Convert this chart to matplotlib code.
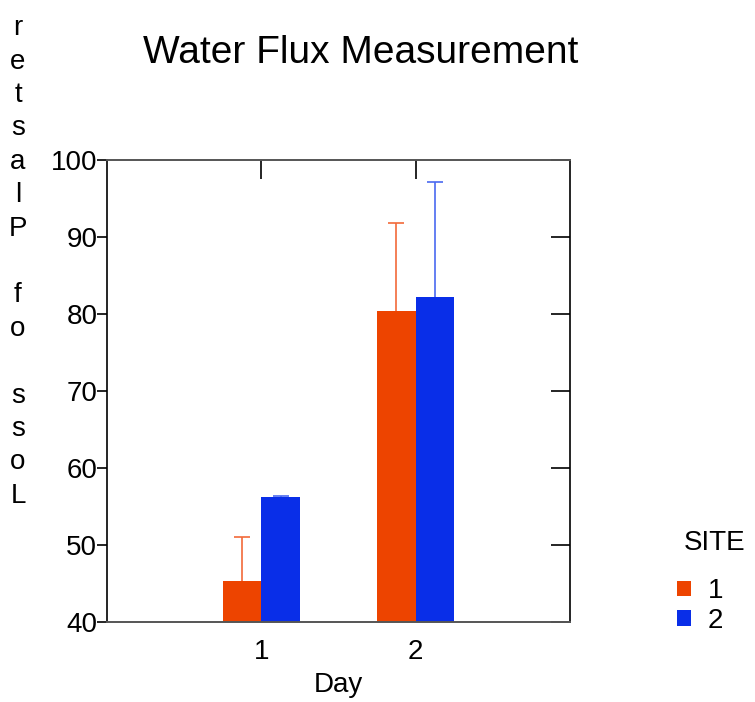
import matplotlib
matplotlib.use("Agg")
import matplotlib.pyplot as plt
import numpy as np
from matplotlib.patches import Patch

plt.rcParams["font.family"] = ["Liberation Sans", "DejaVu Sans"]

days = [1, 2]
sites = ["1", "2"]
site1_mean = [45.3, 80.4]
site1_err = [5.8, 11.4]
site2_mean = [56.2, 82.2]
site2_err = [0.1, 14.9]

bar_colors = ["#ED4400", "#092EE8"]
err_colors = ["#F26A3A", "#4A6AF0"]

fig = plt.figure(figsize=(7.55, 7.02), dpi=100)
ax = fig.add_axes([107 / 755, 1 - 622 / 702, 463 / 755, 462 / 702])

width = 0.25
x = np.array(days, dtype=float)
means = [site1_mean, site2_mean]
errs = [site1_err, site2_err]
offsets = [-width / 2, width / 2]
for i in range(2):
    ax.bar(x + offsets[i], means[i], width=width, color=bar_colors[i], zorder=2)
    _, caps, _ = ax.errorbar(x + offsets[i], means[i], yerr=[np.zeros(2), errs[i]],
                             fmt="none", ecolor=err_colors[i], elinewidth=1.2,
                             capsize=5.5, capthick=1.2, zorder=1)
    # only the upper cap is drawn
    caps[0].set_visible(False)

ax.set_xlim(0, 3)
ax.set_ylim(40, 100)
ax.set_xticks(days)
ax.set_xticklabels([str(d) for d in days])
ax.set_yticks(range(40, 101, 10))
ax.tick_params(axis="both", labelsize=20, colors="black")
ax.tick_params(axis="y", direction="out", length=7, width=1.2, pad=0,
               left=True, right=False)
ax.tick_params(axis="x", direction="in", length=14, width=1.2, top=True,
               bottom=True, pad=12)
ax2 = ax.secondary_yaxis("right")
ax2.set_yticks(range(40, 101, 10))
ax2.tick_params(direction="in", length=14, width=1.2, labelright=False)

for s in ["left", "right"]:
    ax.spines[s].set_color("black")
    ax.spines[s].set_linewidth(1.2)
ax2.spines["right"].set_visible(False)
for s in ["top", "bottom"]:
    ax.spines[s].set_color("#555555")
    ax.spines[s].set_linewidth(1.4)

ax.set_xlabel("Day", fontsize=20, labelpad=5)
fig.text(361 / 755, 1 - 53 / 702, "Water Flux Measurement", fontsize=28,
         ha="center", va="center")

ylab = "\n".join(list("Loss of Plaster"[::-1]))
fig.text(18 / 755, 1 - 262 / 702, ylab, fontsize=20, ha="center", va="center",
         linespacing=1.37)

fig.text(684 / 755, 1 - 543 / 702, "SITE", fontsize=20, ha="left", va="center")
handles = [Patch(facecolor=c, edgecolor="none") for c in bar_colors]
leg = fig.legend(handles, sites, loc="center left",
                 bbox_to_anchor=(677 / 755, 1 - 606 / 702), frameon=False,
                 fontsize=20, handlelength=0.5, handleheight=0.5,
                 handletextpad=0.6, labelspacing=0.12, borderpad=0,
                 borderaxespad=0)

fig.savefig("out.png", dpi=100)
